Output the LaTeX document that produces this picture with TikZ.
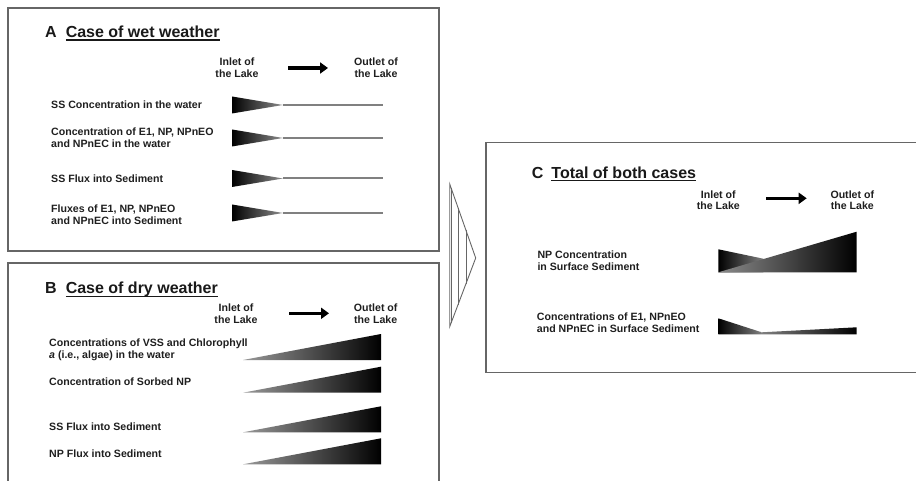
\documentclass[tikz,border=0pt]{standalone}
\usepackage{fontspec}
\setmainfont{Liberation Sans}
\usetikzlibrary{arrows.meta}
\newcommand\ulbar[1]{\setbox0\hbox{#1}\rlap{\rule[-3.2pt]{\wd0}{1.5pt}}\box0}
\begin{document}
\begin{tikzpicture}[x=1pt,y=-1pt,
  lbl/.style={font=\bfseries\fontsize{10.6}{11.8}\selectfont, text=black!88, inner sep=0pt, align=left, anchor=west},
  endlbl/.style={font=\bfseries\fontsize{10.6}{11.8}\selectfont, text=black!88, inner sep=0pt, align=center},
  ttl/.style={font=\bfseries\fontsize{16}{19}\selectfont, text=black!90, inner sep=0pt, anchor=base west},
  panel/.style={draw=black!60, line width=1.2pt},
  flowarrow/.style={line width=3.5pt, -{Triangle[length=8pt,width=11pt]}},
  wetwedge/.style={left color=black, right color=black!45},
  wetline/.style={draw=black!50, line width=2pt},
  drywedge/.style={left color=black!40, right color=black},
  bigarrow/.style={draw=black!60, line width=0.9pt, line join=miter},
]
\useasboundingbox (0,0) rectangle (916,481);
\clip (0,0) rectangle (916,481);
\fill[white] (0,0) rectangle (916,481);

% panel frames
\draw[panel] (8,8) rectangle (439,251);
\draw[panel] (8,490) -- (8,263) -- (439,263) -- (439,490);
\draw[panel] (925,142.7) -- (486,142.7) -- (486,372.7) -- (925,372.7);

% ---------- Panel A ----------
\node[ttl] (tA) at (45,37.7) {A\hspace{9pt}\ulbar{Case of wet weather}};
\node[endlbl] (inA) at (237,67.5) {Inlet of\\the Lake};
\node[endlbl] (outA) at (376,67.5) {Outlet of\\the Lake};
\coordinate (aA1) at (288,68);
\coordinate (aA2) at (328,68);
\draw[flowarrow] (aA1) -- (aA2);
\node[lbl] (a1) at (51,104.5) {SS Concentration in the water};
\node[lbl] (a2) at (51,138) {Concentration of E1, NP, NPnEO\\and NPnEC in the water};
\node[lbl] (a3) at (51,179) {SS Flux into Sediment};
\node[lbl] (a4) at (51,215) {Fluxes of E1, NP, NPnEO\\and NPnEC into Sediment};
\foreach \y in {105,138,178.5,213}{
  \shade[wetwedge] (232,{\y-8.5}) -- (283,\y) -- (232,{\y+8.5}) -- cycle;
  \draw[wetline] (283,\y) -- (383,\y);
}

% ---------- Panel B ----------
\node[ttl] (tB) at (45,294) {B\hspace{9pt}\ulbar{Case of dry weather}};
\node[endlbl] (inB) at (236,313.7) {Inlet of\\the Lake};
\node[endlbl] (outB) at (375.7,313.7) {Outlet of\\the Lake};
\coordinate (aB1) at (289,313.3);
\coordinate (aB2) at (329,313.3);
\draw[flowarrow] (aB1) -- (aB2);
\node[lbl] (b1) at (49,349.7) {Concentrations of VSS and Chlorophyll\\\textit{a} (i.e., algae) in the water};
\node[lbl] (b2) at (49,381.7) {Concentration of Sorbed NP};
\node[lbl] (b3) at (49,426.7) {SS Flux into Sediment};
\node[lbl] (b4) at (49,453.3) {NP Flux into Sediment};
\foreach \b in {360,392.7,432.3,464.3}{
  \shade[drywedge] (243,\b) -- (381,{\b-26}) -- (381,\b) -- cycle;
}

% ---------- big arrow ----------
\draw[bigarrow] (449.7,184) -- (475.7,258) -- (449.7,326.7) -- cycle;
\draw[bigarrow] (451.3,188) -- (451.3,323);
\draw[bigarrow] (458,207.6) -- (458,304.8);
\draw[bigarrow] (466,230.4) -- (466,283.6);

% ---------- Panel C ----------
\node[ttl] (tC) at (531.7,178.3) {C\hspace{8pt}\ulbar{Total of both cases}};
\node[endlbl] (inC) at (718.3,200.2) {Inlet of\\the Lake};
\node[endlbl] (outC) at (852.3,200.2) {Outlet of\\the Lake};
\coordinate (aC1) at (766,198.3);
\coordinate (aC2) at (806.7,198.3);
\draw[flowarrow] (aC1) -- (aC2);
\node[lbl] (c1) at (537.3,261) {NP Concentration\\in Surface Sediment};
\node[lbl] (c2) at (536.7,323) {Concentrations of E1, NPnEO\\and NPnEC in Surface Sediment};
\shade[left color=black, right color=black!50] (718.3,249.3) -- (763.3,258.7) -- (763.3,272.3) -- (718.3,272.3) -- cycle;
\shade[left color=black!45, right color=black] (718.3,272.3) -- (856.7,231.7) -- (856.7,272.3) -- cycle;
\shade[left color=black, right color=black!50] (718.3,318.3) -- (761.7,332.3) -- (761.7,334.3) -- (718.3,334.3) -- cycle;
\shade[left color=black!50, right color=black] (761.7,332.3) -- (856.7,327.3) -- (856.7,334.3) -- (761.7,334.3) -- cycle;
\end{tikzpicture}
\end{document}
